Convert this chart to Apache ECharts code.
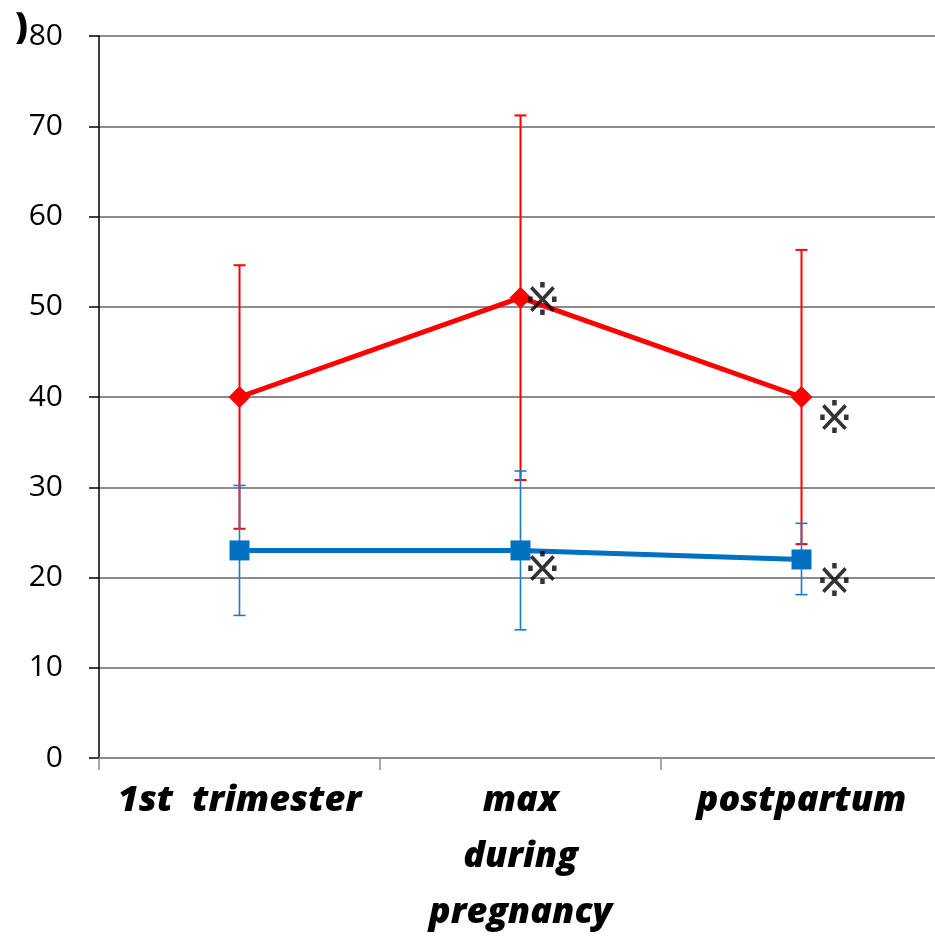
<!DOCTYPE html>
<html>
<head>
<meta charset="utf-8">
<script src="https://cdn.jsdelivr.net/npm/echarts@6/dist/echarts.min.js"></script>
<style>html,body{margin:0;padding:0;background:#fff;}#c{width:935px;height:936px;}</style>
</head>
<body>
<div id="c"></div>
<script>
const categories = ['1st  trimester', 'max\nduring\npregnancy', 'postpartum'];
const yTicks = [0, 10, 20, 30, 40, 50, 60, 70, 80];
const redMean = [40, 51, 40];
const redUpper = [54.6, 71.2, 56.3];
const redLower = [25.4, 30.8, 23.7];
const blueMean = [23, 23, 22];
const blueUpper = [30.2, 31.8, 26.0];
const blueLower = [15.8, 14.2, 18.1];
const markCat = [1, 1, 2, 2];
const markVal = [50.9, 21.1, 37.8, 19.7];

const chart = echarts.init(document.getElementById('c'));

function errSeries(upper, lower, color, width) {
  return {
    type: 'custom',
    z: 3,
    data: categories.map((c, i) => [i, lower[i], upper[i]]),
    renderItem: function (params, api) {
      const lo = api.coord([api.value(0), api.value(1)]);
      const hi = api.coord([api.value(0), api.value(2)]);
      const hw = 6;
      const st = { stroke: color, lineWidth: width };
      return {
        type: 'group',
        children: [
          { type: 'line', shape: { x1: lo[0], y1: lo[1], x2: hi[0], y2: hi[1] }, style: st },
          { type: 'line', shape: { x1: lo[0] - hw, y1: lo[1], x2: lo[0] + hw, y2: lo[1] }, style: st },
          { type: 'line', shape: { x1: hi[0] - hw, y1: hi[1], x2: hi[0] + hw, y2: hi[1] }, style: st }
        ]
      };
    }
  };
}

const markOffsets = [[22, 5], [22, 5], [33, 5], [33, 4]];

chart.setOption({
  animation: false,
  backgroundColor: '#fff',
  grid: { left: 99, right: -7, top: 36, bottom: 178, outerBoundsMode: 'none', containLabel: false },
  xAxis: {
    type: 'category',
    data: categories,
    boundaryGap: true,
    axisLine: { lineStyle: { color: '#8c8c8c', width: 2 } },
    axisTick: { show: true, length: 12, lineStyle: { color: '#8c8c8c', width: 1.5 } },
    axisLabel: {
      color: '#000',
      fontFamily: 'Open Sans',
      fontWeight: 800,
      fontStyle: 'italic',
      fontSize: 36,
      lineHeight: 56,
      margin: 15,
      interval: 0
    }
  },
  yAxis: {
    type: 'value',
    min: 0,
    max: 80,
    interval: 10,
    axisLine: { show: true, lineStyle: { color: '#000', width: 1.5 } },
    axisTick: { show: true, length: 10, lineStyle: { color: '#000', width: 1.5 } },
    splitLine: { lineStyle: { color: '#8c8c8c', width: 2 } },
    axisLabel: {
      color: '#000',
      fontFamily: 'Open Sans',
      fontSize: 30,
      margin: 36,
      formatter: v => yTicks.includes(v) ? String(v) : ''
    }
  },
  graphic: [
    { type: 'text', left: 15, top: 10, style: { text: ')', fontSize: 36, fontWeight: 900, fontFamily: 'Open Sans', fill: '#000' } }
  ],
  series: [
    errSeries(redUpper, redLower, '#ff0000', 2),
    errSeries(blueUpper, blueLower, '#1a7bd0', 1.6),
    {
      type: 'line',
      data: redMean,
      z: 5,
      symbol: 'diamond',
      symbolSize: 22,
      lineStyle: { color: '#ff0000', width: 5 },
      itemStyle: { color: '#ff0000' }
    },
    {
      type: 'line',
      data: blueMean,
      z: 5,
      symbol: 'rect',
      symbolSize: 20,
      lineStyle: { color: '#0070c0', width: 5 },
      itemStyle: { color: '#0070c0' }
    },
    {
      type: 'scatter',
      z: 6,
      symbolSize: 0,
      data: markCat.map((c, i) => ({
        value: [c, markVal[i]],
        label: { offset: markOffsets[i] }
      })),
      label: {
        show: true,
        position: 'inside',
        formatter: '※',
        fontSize: 44,
        color: '#000',
        fontFamily: 'DejaVu Sans'
      }
    }
  ]
});
</script>
</body>
</html>
